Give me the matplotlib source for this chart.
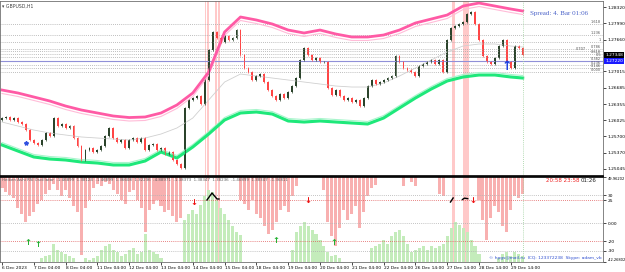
import numpy as np
import matplotlib.pyplot as plt
import matplotlib.patheffects as pe
from matplotlib.transforms import blended_transform_factory

plt.rcParams['font.family'] = ['DejaVu Sans']

# GBPUSD H1 closes, one value every 3 bars
first_open = 1.26030
closes = [
    1.26072, 1.26092, 1.26032, 1.26072, 1.25991, 1.25951, 1.25829, 1.25627, 1.25566, 1.25525,
    1.25627, 1.25768, 1.25708, 1.26072, 1.25910, 1.25951, 1.25870, 1.25910, 1.25667, 1.25505,
    1.25222, 1.25424, 1.25465, 1.25384, 1.25424, 1.25505, 1.25708, 1.25870, 1.25667, 1.25586,
    1.25627, 1.25465, 1.25627, 1.25667, 1.25586, 1.25667, 1.25424, 1.25525, 1.25546, 1.25424,
    1.25465, 1.25343, 1.25384, 1.25222, 1.25141, 1.25060, 1.26275, 1.26437, 1.26477, 1.26518,
    1.26356, 1.26842, 1.27449, 1.27814, 1.27692, 1.27611, 1.27733, 1.27652, 1.27692, 1.27854,
    1.27348, 1.27085, 1.27004, 1.26842, 1.26923, 1.26963, 1.26801, 1.26639, 1.26518, 1.26437,
    1.26558, 1.26477, 1.26599, 1.26720, 1.26882, 1.27247, 1.27490, 1.27348, 1.27247, 1.27287,
    1.27206, 1.27206, 1.26680, 1.26538, 1.26639, 1.26518, 1.26437, 1.26477, 1.26396, 1.26437,
    1.26315, 1.26477, 1.26720, 1.26842, 1.26761, 1.26801, 1.26842, 1.26882, 1.26923, 1.27328,
    1.27206, 1.27085, 1.27044, 1.27004, 1.26923, 1.27125, 1.27166, 1.27206, 1.27247, 1.27166,
    1.27247, 1.27004, 1.27652, 1.27895, 1.27935, 1.27976, 1.28016, 1.28178, 1.28219, 1.27976,
    1.27652, 1.27328, 1.27206, 1.27166, 1.27287, 1.27530, 1.27652, 1.27206, 1.27085, 1.27530,
    1.27490, 1.27348,
]

# bands (every 12 bars)
band_bars = list(range(0, 385, 12)) + [393]
upper_band = [
    1.26639, 1.26579, 1.26498, 1.26417, 1.26315, 1.26234, 1.26174, 1.26113, 1.26082, 1.26093,
    1.26174, 1.26336, 1.26579, 1.27004, 1.27814, 1.28118, 1.28057, 1.27976, 1.27854, 1.27794,
    1.27854, 1.27773, 1.27713, 1.27713, 1.27753, 1.27854, 1.27996, 1.28077, 1.28158, 1.28340,
    1.28401, 1.28340, 1.28280, 1.28239,
]
lower_band = [
    1.25526, 1.25404, 1.25283, 1.25242, 1.25222, 1.25181, 1.25161, 1.25121, 1.25121, 1.25202,
    1.25384, 1.25262, 1.25485, 1.25748, 1.26032, 1.26174, 1.26194, 1.26153, 1.26012, 1.25991,
    1.26012, 1.25991, 1.25971, 1.25951, 1.26072, 1.26275, 1.26477, 1.26660, 1.26822, 1.26903,
    1.26943, 1.26943, 1.26903, 1.26882,
]
mid_line = [
    1.25991, 1.25910, 1.25829, 1.25769, 1.25728, 1.25688, 1.25667, 1.25647, 1.25627, 1.25667,
    1.25748, 1.25870, 1.26072, 1.26437, 1.26801, 1.26963, 1.26923, 1.26882, 1.26842, 1.26801,
    1.26761, 1.26720, 1.26700, 1.26700, 1.26781, 1.26923, 1.27085, 1.27247, 1.27409, 1.27530,
    1.27571, 1.27571, 1.27530, 1.27510,
]

# fibonacci levels
fib_low, fib_high = 1.26998, 1.27605
fib_levels = [0, 0.146, 0.236, 0.382, 0.5, 0.618, 0.707, 0.786, 1, 1.236, 1.618]
fib_names = ['0.000', '0.146', '0.236', '0.382', '0.5', '0.618', '0.707', '0.786', '1', '1.236', '1.618']
bid_price = 1.27348
blue_level = 1.27220

price_ticks = [1.28320, 1.27990, 1.27660, 1.27015, 1.26685, 1.26355,
               1.26025, 1.25700, 1.25370, 1.25045]

# Heiken Ashi RSI oscillator (every 3 bars): pink bars hang from top, green rise from bottom
osc_top, osc_bottom = 49.96202, -42.26802
N = None
bear_lvl = [
    38.0, 33.7, 30.4, 27.2, 16.4, 9.8, 1.1, 7.7, 12.0, 20.7,
    25.0, 31.5, 35.9, 42.4, 35.9, 29.3, 35.9, 27.2, 18.5, 12.0,
    -34.7, 16.4, 25.0, 38.0, 42.4, 40.2, 44.5, 42.4, 35.9, 31.5,
    25.0, 20.7, 33.7, 35.9, 25.0, 16.4, -9.7, 14.2, 20.7, 25.0,
    18.5, 12.0, 14.2, 7.7, 1.1, 5.5, N, N, N, N,
    N, N, N, N, N, N, N, N, N, N,
    25.0, 20.7, 14.2, 25.0, 9.8, 5.5, -3.2, -11.9, -7.5, 1.1,
    14.2, 18.5, 12.0, 29.3, 40.2, N, N, N, N, N,
    N, 35.9, 1.1, -14.1, -24.9, -5.4, 14.2, 3.3, 9.8, 18.5,
    -5.4, 12.0, 29.3, 38.0, 41.3, N, N, N, N, N,
    N, 40.2, N, 44.5, 40.2, N, N, N, N, N,
    31.5, 29.3, N, N, N, N, N, N, N, N,
    25.0, 3.3, -18.4, 5.5, 18.5, 12.0, -3.2, -9.7, 14.2, 29.3,
    27.2, 31.5,
]
bull_lvl = [
    N, N, N, N, N, N, N, N, N, N,
    -37.9, -35.8, -34.7, -22.7, -29.2, -31.4, -33.6, -35.8, -37.9, N,
    N, -37.9, -40.1, -37.9, -35.8, -29.2, -24.9, -22.7, -29.2, -31.4,
    -35.8, -33.6, -29.2, -27.1, -33.6, -31.4, -11.9, -29.2, -31.4, -33.6,
    -37.9, N, N, N, N, N, 3.3, 9.8, 14.2, 9.8,
    19.6, 29.3, 35.9, 33.7, 25.0, 16.4, 9.8, 3.3, -3.2, -9.7,
    -13.0, N, N, N, N, N, N, N, N, N,
    N, N, N, -29.2, -9.7, -3.2, 1.1, -3.2, -7.5, -11.9,
    -18.4, -24.9, -31.4, -35.8, -34.7, -37.9, N, N, N, N,
    N, N, N, -27.1, -24.9, -22.7, -18.4, -22.7, -14.1, -9.7,
    -7.5, -14.1, -22.7, -31.4, -29.2, -27.1, -24.9, -29.2, -24.9, -27.1,
    -24.9, -22.7, -14.1, -5.4, 1.1, -2.1, -5.4, -9.7, -18.4, -24.9,
    -33.6, N, N, N, N, -37.9, -33.6, -31.4, -35.8, -31.4,
    -33.6, -35.8,
]
osc_levels_grey = [30, 0, -30]
osc_levels_red = [25, -20]
osc_ticks = [49.96202, 30, 25, 0, -20, -30, -42.26802]
osc_tick_labels = ['49.96202', '30', '25', '0.00', '-20', '-30', '-42.26802']

# signal arrows (bar index, oscillator value)
up_arrows = [(19.6, -21.6), (27.2, -23.8), (206.8, -18.4), (250.6, -20.6)]
down_arrows = [(144.9, 22.8), (230.9, 25.0), (355.5, 25.0)]
zigzag_bars = [154.7, 158.5, 162.3, 163.8]
zigzag_vals = [25.0, 32.6, 26.1, 26.1]
tick_marks = [([338.5, 340.5], [22.8, 27.2]), ([347.5, 349.0, 351.5], [25.5, 27.0, 26.5])]

# highlighted bar stripes and current-bar line
stripes = [(153, 154), (155, 156.2), (160.8, 162.3), (163, 164.5), (339.5, 342), (348, 352.5)]
now_bar = 393.2
arrow_bar, arrow_price = 381, 1.27125
star_bar, star_price = 18, 1.25566

time_labels = ['6 Dec 2023', '7 Dec 04:00', '8 Dec 04:00', '11 Dec 04:00', '12 Dec 04:00',
               '13 Dec 04:00', '14 Dec 04:00', '15 Dec 04:00', '18 Dec 04:00', '19 Dec 04:00',
               '20 Dec 04:00', '21 Dec 04:00', '22 Dec 04:00', '26 Dec 14:00', '27 Dec 14:00',
               '28 Dec 14:00', '29 Dec 14:00']

W, H = 625, 272
fig = plt.figure(figsize=(W / 100, H / 100), dpi=100)
ax = fig.add_axes([0, 1 - 176 / H, 603 / W, 175 / H])
ax2 = fig.add_axes([0, 1 - 262 / H, 603 / W, 85 / H])
xlim = (-1.5, 453.6)

# ---- price panel ----
bars = np.arange(len(closes)) * 3
c = np.array(closes)
o = np.r_[first_open, c[:-1]]
WICK = 0.00028
col = np.where(c >= o, '#2b432b', '#ff4545')

for a, b in stripes:
    ax.axvspan(a, b, color='#ffb3b3', alpha=0.7, lw=0)
    ax2.axvspan(a, b, color='#ffb3b3', alpha=0.7, lw=0)

for lv, nm in zip(fib_levels, fib_names):
    p = fib_low + lv * (fib_high - fib_low)
    ax.axhline(p, color='#a8a8a8', lw=0.6, ls=(0, (1, 1.5)))
    # the 0.707 label is pushed left so it does not sit on 0.786
    lx = 441 if nm == '0.707' else 452
    ax.text(lx, p, nm, fontsize=2.5, ha='right', va='bottom', color='#505050')
ax.axhline(blue_level, color='#9090d8', lw=0.8)

ax.plot(band_bars, mid_line, color='#d0d0d0', lw=0.6)
ax.plot(band_bars, upper_band, color='#ff5aa5', lw=2.0,
        path_effects=[pe.Stroke(offset=(0, -2.5), linewidth=0.8, foreground='#ffbcd8'), pe.Normal()])
ax.plot(band_bars, lower_band, color='#1ee87a', lw=2.2,
        path_effects=[pe.Stroke(offset=(0, 1.8), linewidth=0.8, foreground='#a8f5cc'), pe.Normal()])

ax.vlines(bars, np.minimum(o, c) - WICK, np.maximum(o, c) + WICK, colors=col, lw=0.5)
ax.bar(bars, c - o, bottom=o, width=1.4, color=col, lw=0)

ax.axvline(now_bar, color='#9ccf9c', lw=0.6, ls=(0, (1, 1.5)))
ax.text(arrow_bar, arrow_price, '↑', color='#1a3ee0', fontsize=9, fontweight='bold',
        ha='center', va='center')
ax.plot(star_bar, star_price, marker='*', color='#3050e0', ms=3)

ax.set_xlim(*xlim)
ax.set_ylim(1.24898, 1.28442)
ax.set_xticks([])
ax.yaxis.tick_right()
ax.set_yticks(price_ticks)
ax.set_yticklabels([f'{t:.5f}' for t in price_ticks])
ax.tick_params(axis='y', labelsize=3.2, length=2, width=0.5, pad=1.5)
for s in ax.spines.values():
    s.set_color('#707070')
    s.set_linewidth(0.6)
ax.spines['bottom'].set_color('black')
ax.spines['bottom'].set_linewidth(1.2)

tr = blended_transform_factory(ax.transAxes, ax.transData)
ax.text(1.004, bid_price, f'{bid_price:.5f}', transform=tr, fontsize=3.2, color='white', va='center',
        bbox=dict(facecolor='black', edgecolor='none', pad=0.8))
ax.text(1.004, blue_level, f'{blue_level:.5f}', transform=tr, fontsize=3.2, color='white', va='center',
        bbox=dict(facecolor='#1a1aff', edgecolor='none', pad=0.8))

ax.text(0.004, 0.985, '▾ GBPUSD,H1', transform=ax.transAxes, fontsize=3.3, color='#404040',
        va='top', ha='left')
ax.text(0.879, 0.926, 'Spread: 4. Bar 01:06', transform=ax.transAxes, fontsize=5,
        family='Liberation Serif', color='#4a62c8', va='center', ha='left')

# ---- oscillator panel ----
ob = np.array([np.nan if v is None else v for v in bear_lvl])
ol = np.array([np.nan if v is None else v for v in bull_lvl])
mb = ~np.isnan(ob)
ml = ~np.isnan(ol)
ax2.bar(bars[mb], osc_top - ob[mb], bottom=ob[mb], width=2.3, color='#f8b0b0', lw=0)
ax2.bar(bars[ml], ol[ml] - osc_bottom, bottom=osc_bottom, width=2.3, color='#c4ecbb', lw=0)

for lv in osc_levels_grey:
    ax2.axhline(lv, color='#b0b0b0', lw=0.6, ls=(0, (1, 1.5)))
for lv in osc_levels_red:
    ax2.axhline(lv, color='#e05a5a', lw=0.6, ls=(0, (1, 1.5)))
ax2.axvline(now_bar, color='#9ccf9c', lw=0.6, ls=(0, (1, 1.5)))

for bx, v in up_arrows:
    ax2.text(bx, v, '↑', color='#22b030', fontsize=6, fontweight='bold', ha='center', va='center')
for bx, v in down_arrows:
    ax2.text(bx, v, '↓', color='#ee1010', fontsize=6, fontweight='bold', ha='center', va='center')
ax2.plot(zigzag_bars, zigzag_vals, color='black', lw=1.0)
for xs, ys in tick_marks:
    ax2.plot(xs, ys, color='black', lw=1.0)

ax2.set_xlim(*xlim)
ax2.set_ylim(osc_bottom, osc_top)
ax2.yaxis.tick_right()
ax2.set_yticks(osc_ticks)
ax2.set_yticklabels(osc_tick_labels)
ax2.tick_params(axis='y', labelsize=3.2, length=2, width=0.5, pad=1.5)
ylabels = ax2.get_yticklabels()
ylabels[0].set_va('top')
ylabels[0].set_fontsize(2.6)
ylabels[-1].set_va('bottom')
ylabels[-1].set_fontsize(2.6)
ax2.set_xticks(np.arange(len(time_labels)) * 24)
ax2.set_xticklabels(time_labels, ha='left')
ax2.tick_params(axis='x', labelsize=3.2, length=2, width=0.5, pad=1)
for s in ax2.spines.values():
    s.set_color('#707070')
    s.set_linewidth(0.6)
ax2.spines['top'].set_color('black')
ax2.spines['top'].set_linewidth(1.2)

ax2.text(0.004, 0.965, 'Heiken Ashi RSI Oscillator  -1.46899  1.38124  -1.46899  1.36608  1.32236  '
         '-4.88971  -1.38373  1.38347  1.38236  -1.46899  1.38347  -1.36811',
         transform=ax2.transAxes, fontsize=2.9, color='#606060', va='center', ha='left')
ax2.text(0.905, 0.955, '20:58 23:58', transform=ax2.transAxes, fontsize=4.0, color='#ee2020',
         va='center', ha='left')
ax2.text(0.963, 0.955, '01:26', transform=ax2.transAxes, fontsize=4.0, color='#202020',
         va='center', ha='left')
ax2.text(0.997, 0.02, '© hpgs@mail.ru  ICQ: 123372238  Skype: adam_vb', transform=ax2.transAxes,
         fontsize=3.2, color='#3050d0', va='bottom', ha='right')

fig.savefig('out.png', dpi=100)
